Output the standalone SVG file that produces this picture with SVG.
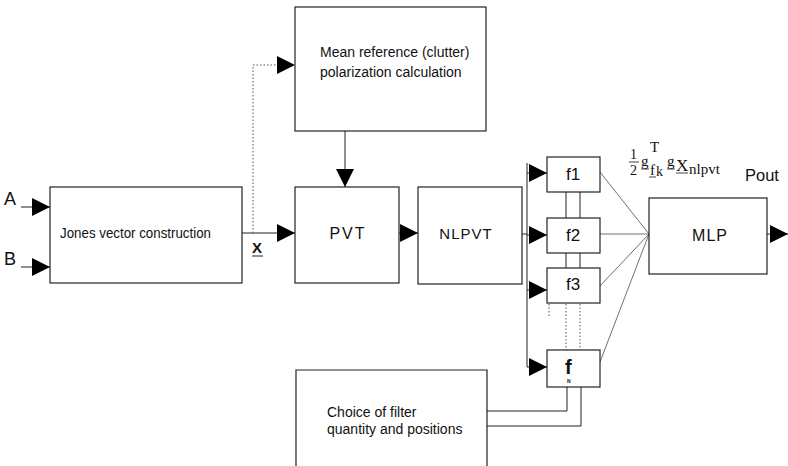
<svg xmlns="http://www.w3.org/2000/svg" width="788" height="466" viewBox="0 0 788 466">
<style>
.box{fill:#fff;stroke:#222;stroke-width:1.2}
.ln{fill:none;stroke:#222;stroke-width:1}
.thin{fill:none;stroke:#333;stroke-width:0.7}
.dot{fill:none;stroke:#555;stroke-width:1;stroke-dasharray:1.5 2}
.t{font-family:"Liberation Sans",Arial,sans-serif;fill:#111}
.c{text-anchor:middle}
.m{font-family:"Liberation Serif","Times New Roman",serif;fill:#111}
</style>
<defs>
<marker id="ah" markerUnits="userSpaceOnUse" markerWidth="18" markerHeight="20" refX="18" refY="10" orient="auto">
<path d="M0,1 L18,10 L0,19 z" fill="#000"/>
</marker>
</defs>
<rect width="788" height="466" fill="#fff"/>

<g id="connectors">
<line class="ln" x1="21" y1="207" x2="50" y2="207" marker-end="url(#ah)"/>
<line class="ln" x1="21" y1="267" x2="50" y2="267" marker-end="url(#ah)"/>
<line class="ln" x1="242" y1="233" x2="295" y2="233" marker-end="url(#ah)"/>
<polyline class="dot" points="253,233 253,65 277,65"/>
<line class="ln" x1="253" y1="65" x2="295" y2="65" stroke-opacity="0" marker-end="url(#ah)"/>
<line class="ln" x1="345" y1="131" x2="345" y2="187" marker-end="url(#ah)"/>
<line class="ln" x1="399" y1="233" x2="418" y2="233" marker-end="url(#ah)"/>
<line class="ln" x1="522" y1="234" x2="527" y2="234"/>
<line class="ln" x1="527" y1="163" x2="527" y2="367" stroke="#555" stroke-width="1.5"/>
<line class="ln" x1="527" y1="173" x2="547" y2="173" marker-end="url(#ah)"/>
<line class="ln" x1="527" y1="235" x2="547" y2="235" marker-end="url(#ah)"/>
<line class="ln" x1="527" y1="290" x2="547" y2="290" marker-end="url(#ah)"/>
<line class="ln" x1="527" y1="367" x2="547" y2="367" marker-end="url(#ah)"/>
<line class="ln" x1="566" y1="192" x2="566" y2="218" stroke="#777"/>
<line class="ln" x1="580" y1="192" x2="580" y2="218"/>
<line class="ln" x1="566" y1="253" x2="566" y2="268" stroke="#777"/>
<line class="ln" x1="580" y1="253" x2="580" y2="268"/>
<line class="dot" x1="549" y1="304" x2="549" y2="318"/>
<line class="dot" x1="566" y1="304" x2="566" y2="350"/>
<line class="dot" x1="580" y1="304" x2="580" y2="350"/>
<polyline class="ln" points="567,387 567,411 487,411"/>
<polyline class="ln" points="581,387 581,426 487,426" stroke-width="1.4"/>
<line class="thin" x1="600" y1="172" x2="649" y2="234"/>
<line class="thin" x1="600" y1="234" x2="649" y2="234"/>
<line class="thin" x1="600" y1="286" x2="649" y2="234"/>
<line class="thin" x1="600" y1="362" x2="649" y2="234"/>
<line class="ln" x1="767" y1="234" x2="788" y2="234" marker-end="url(#ah)"/>
</g>

<g id="labelA"><text class="t" x="4" y="205" style="font-size:18px">A</text></g>
<g id="labelB"><text class="t" x="4" y="265" style="font-size:18px">B</text></g>

<g id="jones">
<rect class="box" x="50" y="187" width="192" height="96"/>
<text class="t" x="60" y="238" style="font-size:14.5px" textLength="151" lengthAdjust="spacingAndGlyphs">Jones vector construction</text>
</g>
<g id="xlabel">
<text class="t" x="252" y="253" style="font-size:15px;font-weight:bold">X</text>
<line class="ln" x1="252" y1="256" x2="263" y2="256" stroke-width="1.5"/>
</g>

<g id="mean">
<rect class="box" x="295" y="7" width="191" height="124"/>
<text class="t" x="320" y="57" style="font-size:14px">Mean reference (clutter)</text>
<text class="t" x="320" y="77" style="font-size:14px">polarization calculation</text>
</g>

<g id="pvt">
<rect class="box" x="295" y="187" width="104" height="96"/>
<text class="t c" x="348" y="239" style="font-size:16px;letter-spacing:2px">PVT</text>
</g>

<g id="nlpvt">
<rect class="box" x="418" y="187" width="104" height="97"/>
<text class="t c" x="466" y="239" style="font-size:15px;letter-spacing:1px">NLPVT</text>
</g>

<g id="f1">
<rect class="box" x="547" y="157" width="53" height="35"/>
<text class="t c" x="573" y="180" style="font-size:17px">f1</text>
</g>
<g id="f2">
<rect class="box" x="547" y="218" width="53" height="35"/>
<text class="t c" x="573" y="241" style="font-size:17px">f2</text>
</g>
<g id="f3">
<rect class="box" x="547" y="268" width="53" height="35"/>
<text class="t c" x="573" y="290" style="font-size:17px">f3</text>
</g>
<g id="fN">
<rect class="box" x="547" y="350" width="53" height="37"/>
<text class="t" x="565" y="374" style="font-size:20px;font-weight:bold">f</text>
<text class="t" x="567" y="383" style="font-size:5px;font-weight:bold">N</text>
</g>

<g id="formula">
<text class="m" x="630" y="159" style="font-size:14px">1</text>
<line x1="629" y1="162" x2="639" y2="162" stroke="#111" stroke-width="0.8"/>
<text class="m" x="630" y="175" style="font-size:14px">2</text>
<text class="m" x="641" y="166" style="font-size:15px">g</text>
<line x1="641" y1="169" x2="649" y2="169" stroke="#111" stroke-width="0.8"/>
<text class="m" x="650" y="152" style="font-size:15px">T</text>
<text class="m" x="650" y="175" style="font-size:15px">f</text>
<line x1="649" y1="177" x2="656" y2="177" stroke="#111" stroke-width="0.8"/>
<text class="m" x="656" y="176" style="font-size:14px">k</text>
<text class="m" x="667" y="166" style="font-size:15px">g</text>
<line x1="667" y1="169" x2="675" y2="169" stroke="#111" stroke-width="0.8"/>
<text class="m" x="676" y="171" style="font-size:17px">X</text>
<line x1="676" y1="173" x2="688" y2="173" stroke="#111" stroke-width="0.8"/>
<text class="m" x="689" y="174" style="font-size:15px">nlpvt</text>
</g>

<g id="mlp">
<rect class="box" x="649" y="198" width="118" height="76"/>
<text class="t c" x="710" y="241" style="font-size:16px;letter-spacing:1px">MLP</text>
</g>
<g id="pout"><text class="t" x="745" y="181" style="font-size:16.5px">Pout</text></g>

<g id="choice">
<path class="box" d="M296,466 V370 H487 V466"/>
<text class="t" x="327" y="417" style="font-size:14px">Choice of filter</text>
<text class="t" x="327" y="434" style="font-size:14px">quantity and positions</text>
</g>
</svg>
